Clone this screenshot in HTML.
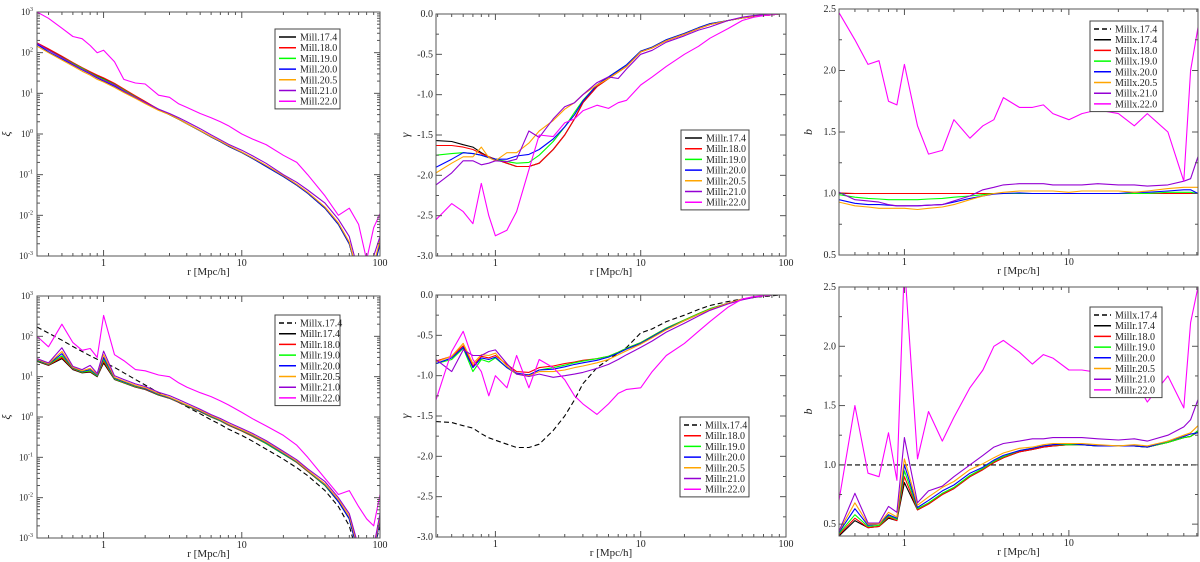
<!DOCTYPE html>
<html><head><meta charset="utf-8">
<style>
body{margin:0;background:#fff;}
svg{display:block;font-family:"Liberation Serif",serif;}
</style></head>
<body>
<svg id="fig" width="1200" height="562" viewBox="0 0 1200 562" xmlns="http://www.w3.org/2000/svg"></svg>
<script>
const G1=[0.33,0.4,0.5,0.6,0.7,0.8,0.9,1,1.2,1.4,1.7,2,2.5,3,3.5,4,5,6,7,8,10,12,15,20,25,30,40,50,60,70,80,90,100];
const G2=[0.39,0.5,0.6,0.7,0.8,0.9,1,1.2,1.4,1.7,2,2.5,3,3.5,4,5,6,7,8,10,12,15,20,25,30,40,50,60,70,80,90,100];
const G3=[0.4,0.5,0.6,0.7,0.8,0.9,1,1.2,1.4,1.7,2,2.5,3,3.5,4,5,6,7,8,10,12,15,20,25,30,40,50,55,61];

// Panel 1: xi (top-left)
const p1_174=[170,120,80,56,42,33,27,23,17,12.5,8.5,6.2,4,3,2.3,1.8,1.2,0.85,0.65,0.5,0.35,0.25,0.16,0.09,0.055,0.035,0.015,0.006,0.002,0.0003,0.0001,0.0005,0.002];
const p1_180=[175,124,82,57,43,34,28,24,17.5,12.8,8.7,6.3,4,3,2.3,1.8,1.2,0.85,0.65,0.5,0.35,0.25,0.16,0.09,0.055,0.035,0.015,0.006,0.002,0.0003,0.0001,0.0005,0.002];
const p1_190=[165,115,76,54,41,32,26,22,16.5,12,8.2,6,3.9,3,2.3,1.8,1.2,0.85,0.65,0.5,0.35,0.25,0.16,0.09,0.055,0.035,0.015,0.006,0.002,0.0003,0.0001,0.0005,0.002];
const p1_200=[160,105,70,50,38,30,24,20,15,11,7.8,5.8,3.9,3,2.3,1.8,1.2,0.85,0.65,0.5,0.35,0.25,0.16,0.09,0.055,0.035,0.015,0.006,0.002,0.0003,0.0001,0.0005,0.002];
const p1_205=[145,100,66,47,35,28,22,19,14,10.5,7.5,5.6,3.8,3,2.3,1.8,1.22,0.87,0.67,0.52,0.36,0.26,0.17,0.095,0.058,0.037,0.016,0.0065,0.0022,0.0003,0.0001,0.0006,0.0025];
const p1_210=[170,115,75,52,39,31,25,21,16,11.5,8,6,4.1,3.2,2.5,2,1.35,0.95,0.72,0.56,0.4,0.29,0.19,0.1,0.065,0.042,0.02,0.008,0.003,0.0004,0.0001,0.001,0.003];
const p1_220=[1000,700,400,250,220,150,100,115,60,22,18,17,9,8,5.5,4.5,3.2,2.5,2,1.6,1.0,0.75,0.55,0.3,0.2,0.1,0.03,0.01,0.015,0.006,0.0008,0.005,0.011];

// Panel 2: gamma (top-middle)
const p2_174=[-1.57,-1.58,-1.62,-1.65,-1.72,-1.77,-1.8,-1.85,-1.89,-1.89,-1.85,-1.68,-1.5,-1.3,-1.1,-0.9,-0.8,-0.72,-0.65,-0.47,-0.42,-0.33,-0.25,-0.18,-0.13,-0.08,-0.05,-0.03,-0.02,-0.01,0,0];
const p2_180=[-1.63,-1.63,-1.65,-1.68,-1.73,-1.77,-1.8,-1.85,-1.89,-1.89,-1.85,-1.68,-1.5,-1.3,-1.1,-0.9,-0.8,-0.72,-0.65,-0.47,-0.42,-0.33,-0.25,-0.18,-0.13,-0.08,-0.05,-0.03,-0.02,-0.01,0,0];
const p2_190=[-1.75,-1.73,-1.72,-1.73,-1.75,-1.78,-1.8,-1.83,-1.85,-1.84,-1.75,-1.58,-1.4,-1.22,-1.07,-0.88,-0.78,-0.7,-0.63,-0.46,-0.41,-0.32,-0.24,-0.17,-0.12,-0.08,-0.05,-0.03,-0.02,-0.01,0,0];
const p2_200=[-1.9,-1.8,-1.72,-1.73,-1.75,-1.78,-1.8,-1.8,-1.76,-1.74,-1.68,-1.55,-1.4,-1.25,-1.08,-0.88,-0.78,-0.7,-0.63,-0.46,-0.41,-0.32,-0.24,-0.17,-0.12,-0.08,-0.05,-0.03,-0.02,-0.01,0,0];
const p2_205=[-1.97,-1.85,-1.77,-1.77,-1.65,-1.78,-1.82,-1.72,-1.72,-1.6,-1.45,-1.32,-1.18,-1.1,-1.0,-0.88,-0.8,-0.72,-0.65,-0.47,-0.42,-0.33,-0.25,-0.18,-0.13,-0.08,-0.05,-0.03,-0.02,-0.01,0,0];
const p2_210=[-2.12,-1.97,-1.82,-1.82,-1.87,-1.85,-1.82,-1.83,-1.8,-1.45,-1.53,-1.3,-1.15,-1.1,-1.0,-0.85,-0.78,-0.8,-0.68,-0.5,-0.45,-0.35,-0.27,-0.2,-0.16,-0.08,-0.04,-0.02,-0.01,0,0,0.02];
const p2_220=[-2.55,-2.35,-2.45,-2.6,-2.1,-2.5,-2.75,-2.68,-2.45,-1.93,-1.5,-1.52,-1.35,-1.3,-1.2,-1.13,-1.17,-1.1,-1.07,-0.88,-0.78,-0.65,-0.5,-0.4,-0.3,-0.18,-0.08,-0.04,-0.02,-0.01,0,0];

// Panel 3: bias (top-right)
const p3_x174=[1,1,1,1,1,1,1,1,1,1,1,1,1,1,1,1,1,1,1,1,1,1,1,1,1,1,1,1,1];
const p3_180=[1.005,1.0,1.0,1.0,1.0,1.0,1.0,1.0,1.0,1.0,1.0,1.0,1.0,1.0,1.0,1.0,1.0,1.0,1.0,1.0,1.0,1.0,1.0,1.0,1.0,1.0,1.0,1.0,1.0];
const p3_190=[0.99,0.97,0.96,0.955,0.95,0.95,0.95,0.95,0.955,0.96,0.97,0.98,0.99,1,1,1,1,1,1,1,1,1,1,1,1,1.01,1.01,1.01,1.0];
const p3_200=[0.95,0.92,0.91,0.91,0.905,0.9,0.9,0.9,0.905,0.91,0.93,0.96,0.98,0.995,1,1.005,1,1,1,1,1,1,1,1.01,1.01,1.02,1.03,1.03,1.0];
const p3_205=[0.93,0.9,0.89,0.88,0.88,0.88,0.88,0.87,0.88,0.89,0.91,0.95,0.98,1.0,1.01,1.02,1.02,1.02,1.02,1.01,1.02,1.02,1.02,1.01,1.02,1.04,1.05,1.05,1.05];
const p3_210=[1.01,0.95,0.94,0.93,0.91,0.9,0.9,0.9,0.905,0.91,0.94,0.98,1.03,1.05,1.07,1.08,1.08,1.08,1.07,1.07,1.07,1.08,1.07,1.07,1.06,1.07,1.1,1.12,1.3];
const p3_220=[2.47,2.25,2.05,2.08,1.75,1.72,2.05,1.55,1.32,1.35,1.6,1.45,1.55,1.6,1.78,1.7,1.7,1.72,1.65,1.6,1.65,1.68,1.65,1.55,1.65,1.5,1.1,2.0,2.35];

// Panel 4: xi (bottom-left)
const p4_174=[24,19,28,15,12.5,13,10,22,8.5,7,5.5,4.8,3.5,2.9,2.3,1.9,1.35,1.0,0.8,0.63,0.45,0.33,0.22,0.12,0.075,0.045,0.02,0.008,0.003,0.0004,0.0001,0.0004,0.003];
const p4_180=[25,19.5,30,15.5,12.8,13.5,10.3,24,8.7,7.1,5.6,4.9,3.55,2.9,2.3,1.9,1.35,1.0,0.8,0.63,0.45,0.33,0.22,0.12,0.075,0.045,0.02,0.008,0.003,0.0004,0.0001,0.0004,0.003];
const p4_190=[25,20,33,16,13,14,10.5,27,8.8,7.2,5.7,5.0,3.6,2.95,2.35,1.92,1.37,1.02,0.81,0.64,0.46,0.34,0.22,0.12,0.076,0.046,0.02,0.008,0.003,0.0004,0.0001,0.0004,0.003];
const p4_200=[26,20.5,37,16.5,13.5,15,11,30,9.2,7.5,5.9,5.1,3.7,3.0,2.4,1.95,1.4,1.04,0.83,0.65,0.47,0.35,0.23,0.125,0.078,0.047,0.021,0.008,0.003,0.0004,0.0001,0.0004,0.003];
const p4_205=[27,21,42,17,14,16,11.5,35,9.6,7.8,6.1,5.3,3.8,3.1,2.45,2.0,1.45,1.07,0.85,0.67,0.48,0.36,0.24,0.13,0.08,0.048,0.022,0.009,0.0035,0.0005,0.0001,0.0005,0.0035];
const p4_210=[28,22,52,18,15,19,12,43,10.5,8.5,6.6,5.7,4.1,3.4,2.7,2.2,1.55,1.15,0.92,0.73,0.52,0.39,0.26,0.14,0.087,0.052,0.025,0.01,0.004,0.0006,0.0001,0.0006,0.004];
const p4_220=[100,55,200,70,45,50,30,330,35,25,15,14,11,10,7,5.5,4,3.2,2.5,2,1.3,0.9,0.6,0.35,0.2,0.1,0.03,0.012,0.015,0.006,0.003,0.002,0.012];
const p4_x174=[170,120,80,56,42,33,27,23,17,12.5,8.5,6.2,4,3,2.3,1.8,1.2,0.85,0.65,0.5,0.35,0.25,0.16,0.09,0.055,0.035,0.015,0.006,0.002,0.0003,0.0001,0.0005,0.002];

// Panel 5: gamma (bottom-middle)
const p5_x174=[-1.57,-1.58,-1.62,-1.65,-1.72,-1.77,-1.8,-1.85,-1.89,-1.89,-1.85,-1.68,-1.5,-1.3,-1.1,-0.9,-0.8,-0.72,-0.65,-0.47,-0.42,-0.33,-0.25,-0.18,-0.13,-0.08,-0.05,-0.03,-0.02,-0.01,0,0];
const p5_180=[-0.82,-0.76,-0.63,-0.88,-0.76,-0.78,-0.75,-0.86,-0.95,-0.96,-0.9,-0.88,-0.85,-0.83,-0.81,-0.79,-0.76,-0.71,-0.66,-0.59,-0.51,-0.41,-0.31,-0.23,-0.17,-0.1,-0.05,-0.03,-0.01,0,0,0];
const p5_190=[-0.85,-0.8,-0.66,-0.95,-0.8,-0.83,-0.78,-0.9,-0.98,-0.99,-0.93,-0.9,-0.87,-0.84,-0.82,-0.79,-0.76,-0.71,-0.66,-0.59,-0.51,-0.41,-0.31,-0.23,-0.17,-0.1,-0.05,-0.03,-0.01,0,0,0];
const p5_200=[-0.85,-0.78,-0.65,-0.9,-0.78,-0.8,-0.77,-0.9,-0.97,-0.99,-0.93,-0.92,-0.89,-0.86,-0.84,-0.81,-0.77,-0.72,-0.67,-0.6,-0.52,-0.42,-0.32,-0.24,-0.18,-0.1,-0.05,-0.03,-0.01,0,0,0];
const p5_205=[-0.83,-0.76,-0.6,-0.85,-0.74,-0.75,-0.72,-0.88,-0.98,-1.0,-0.95,-0.95,-0.93,-0.9,-0.88,-0.84,-0.8,-0.74,-0.69,-0.61,-0.53,-0.43,-0.32,-0.24,-0.18,-0.1,-0.05,-0.03,-0.01,0,0,0];
const p5_210=[-0.8,-0.95,-0.68,-0.75,-0.75,-0.7,-0.68,-0.85,-0.98,-1.01,-0.98,-1.02,-1.0,-0.98,-0.96,-0.91,-0.86,-0.8,-0.74,-0.65,-0.57,-0.46,-0.35,-0.26,-0.19,-0.11,-0.06,-0.03,-0.01,0,0,0];
const p5_220=[-1.3,-0.7,-0.45,-0.8,-0.95,-1.25,-1.0,-1.15,-0.75,-1.15,-0.8,-0.9,-1.05,-1.25,-1.35,-1.48,-1.35,-1.22,-1.17,-1.15,-0.95,-0.75,-0.6,-0.45,-0.33,-0.15,-0.05,-0.02,-0.01,0,0,0];

// Panel 6: bias (bottom-right)
const p6_x174=[1,1,1,1,1,1,1,1,1,1,1,1,1,1,1,1,1,1,1,1,1,1,1,1,1,1,1,1,1];
const p6_174=[0.4,0.53,0.47,0.48,0.55,0.53,0.85,0.62,0.67,0.75,0.8,0.9,0.96,1.02,1.06,1.11,1.13,1.15,1.16,1.17,1.17,1.16,1.16,1.16,1.15,1.19,1.23,1.24,1.28];
const p6_180=[0.41,0.55,0.47,0.48,0.56,0.53,0.9,0.62,0.67,0.75,0.8,0.9,0.96,1.02,1.06,1.11,1.13,1.15,1.16,1.17,1.17,1.16,1.16,1.16,1.15,1.19,1.23,1.24,1.29];
const p6_190=[0.42,0.58,0.48,0.49,0.57,0.54,0.95,0.63,0.68,0.76,0.81,0.91,0.97,1.03,1.07,1.12,1.14,1.16,1.17,1.17,1.17,1.16,1.16,1.16,1.15,1.19,1.23,1.24,1.29];
const p6_200=[0.43,0.63,0.49,0.5,0.58,0.55,1.0,0.64,0.7,0.78,0.83,0.93,0.98,1.04,1.08,1.12,1.14,1.16,1.17,1.18,1.17,1.16,1.16,1.16,1.15,1.2,1.24,1.26,1.27];
const p6_205=[0.44,0.68,0.5,0.5,0.6,0.56,1.05,0.66,0.73,0.81,0.86,0.96,1.01,1.06,1.1,1.14,1.15,1.17,1.18,1.18,1.18,1.17,1.16,1.17,1.16,1.2,1.25,1.27,1.33];
const p6_210=[0.44,0.76,0.51,0.51,0.65,0.6,1.23,0.68,0.78,0.82,0.9,1.0,1.08,1.15,1.18,1.2,1.22,1.22,1.23,1.23,1.23,1.22,1.21,1.22,1.2,1.25,1.32,1.38,1.55];
const p6_220=[0.7,1.5,0.93,0.9,1.27,0.87,2.7,1.05,1.45,1.2,1.4,1.65,1.8,2.0,2.05,1.95,1.85,1.93,1.9,1.8,1.8,1.78,1.6,1.72,1.53,1.75,1.48,2.2,2.5];

const C={blk:'#000',red:'#ff0000',grn:'#00ff00',blu:'#0000ff',org:'#ffa500',pur:'#9400d3',mag:'#ff00ff'};
const NS='http://www.w3.org/2000/svg';
const svg=document.getElementById('fig');
function mk(tag,attrs,parent){const e=document.createElementNS(NS,tag);for(const k in attrs)e.setAttribute(k,attrs[k]);(parent||svg).appendChild(e);return e;}

function panel(cfg){
  const g=mk('g',{});
  
  
  const {L,R,T,B,xmin,xmax}=cfg;
  const lx0=Math.log10(xmin),lx1=Math.log10(xmax);
  const sx=v=>L+(Math.log10(v)-lx0)/(lx1-lx0)*(R-L);
  let sy;
  if(cfg.ylog){const a=Math.log10(cfg.ymin),b=Math.log10(cfg.ymax);sy=v=>B-(Math.log10(Math.max(v,1e-9))-a)/(b-a)*(B-T);}
  else sy=v=>B-(v-cfg.ymin)/(cfg.ymax-cfg.ymin)*(B-T);
  const cid='clip-'+cfg.name;
  const cp=mk('clipPath',{id:cid},g);mk('rect',{x:L,y:T,width:R-L,height:B-T},cp);
  const dg=mk('g',{'clip-path':'url(#'+cid+')'},g);
  cfg.series.forEach(s=>{
    const d=s.v.map((v,i)=>(i?'L':'M')+sx(s.x[i]).toFixed(1)+' '+sy(v).toFixed(1)).join(' ');
    const p=mk('path',{d:d,fill:'none',stroke:s.c,'stroke-width':s.w||1.1,'stroke-dasharray':s.dash?'5 3':'none','stroke-linejoin':'round'},dg);
    
    
  });
  const fr=mk('rect',{x:L,y:T,width:R-L,height:B-T,fill:'none',stroke:'#555','stroke-width':1},g);
  
  
  const ax=mk('g',{stroke:'#555','stroke-width':1},g);
  for(let dec=-1;dec<=2;dec++){for(let m=1;m<10;m++){const v=m*Math.pow(10,dec);if(v<xmin||v>xmax)continue;const x=sx(v);const len=m==1?6:3;
    mk('line',{x1:x,y1:B,x2:x,y2:B-len},ax);mk('line',{x1:x,y1:T,x2:x,y2:T+len},ax);}}
  cfg.xlabels.forEach(v=>{const t=mk('text',{x:sx(v),y:B+10,'font-size':10,'text-anchor':'middle',fill:'#222'},g);t.textContent=v;
    });
  if(cfg.ylog){
    for(let e=-3;e<=3;e++){const y=sy(Math.pow(10,e));mk('line',{x1:L,y1:y,x2:L+6,y2:y},ax);mk('line',{x1:R,y1:y,x2:R-6,y2:y},ax);
      if(e<3)for(let m=2;m<10;m++){const yy=sy(m*Math.pow(10,e));mk('line',{x1:L,y1:yy,x2:L+3,y2:yy},ax);mk('line',{x1:R,y1:yy,x2:R-3,y2:yy},ax);}
      const t=mk('text',{x:L-4,y:y+3,'font-size':9,'text-anchor':'end',fill:'#222'},g);
      
      const b=mk('tspan',{},t);b.textContent='10';const s=mk('tspan',{dy:-4,'font-size':6},t);s.textContent=e;}
  } else {
    const st=cfg.ystep;
    for(let v=cfg.ytick0;v<=cfg.ymax+1e-9;v+=st/2){const y=sy(v);const maj=Math.abs(Math.round(v/st)*st-v)<1e-6;const len=maj?6:3;
      mk('line',{x1:L,y1:y,x2:L+len,y2:y},ax);mk('line',{x1:R,y1:y,x2:R-len,y2:y},ax);
      if(maj){const t=mk('text',{x:L-3,y:y+3,'font-size':10,'text-anchor':'end',fill:'#222'},g);t.textContent=v.toFixed(1);
        }}
  }
  const xt=mk('text',{x:(L+R)/2,y:B+19,'font-size':11,'text-anchor':'middle',fill:'#222'},g);xt.textContent='r [Mpc/h]';
  
  const yt=mk('text',{x:L-27,y:(T+B)/2,'font-size':12,'font-style':'italic','text-anchor':'middle',fill:'#222',transform:`rotate(-90 ${L-27} ${(T+B)/2})`},g);yt.textContent=cfg.ytitle;
  
  const lg=mk('g',{},g);
  
  const [lx,ly,lw]=cfg.leg;const n=cfg.series.length;const h=n*10.7+5;
  mk('rect',{x:lx,y:ly,width:lw,height:h,fill:'#fff',stroke:'#444','stroke-width':1},lg);
  cfg.series.forEach((s,i)=>{const yy=ly+8+i*10.7;
    mk('line',{x1:lx+4,y1:yy,x2:lx+21,y2:yy,stroke:s.c,'stroke-width':1.5,'stroke-dasharray':s.dash?'5 3':'none'},lg);
    const t=mk('text',{x:lx+25,y:yy+3.5,'font-size':10,fill:'#222'},lg);t.textContent=s.label;
    });
}

panel({name:'xi-panel-top',L:37,R:380,T:12,B:256,xmin:0.33,xmax:100,ylog:true,ymin:0.001,ymax:1000,ytitle:'ξ',xlabels:[1,10,100],leg:[275,29,65],
 series:[{x:G1,v:p1_174,c:C.blk,label:'Mill.17.4'},{x:G1,v:p1_180,c:C.red,label:'Mill.18.0'},{x:G1,v:p1_190,c:C.grn,label:'Mill.19.0'},{x:G1,v:p1_200,c:C.blu,label:'Mill.20.0'},{x:G1,v:p1_205,c:C.org,label:'Mill.20.5'},{x:G1,v:p1_210,c:C.pur,label:'Mill.21.0'},{x:G1,v:p1_220,c:C.mag,label:'Mill.22.0'}]});
panel({name:'gamma-panel-top',L:436,R:786,T:14,B:256,xmin:0.39,xmax:100,ylog:false,ymin:-3,ymax:0,ytick0:-3,ystep:0.5,ytitle:'γ',xlabels:[1,10,100],leg:[681,130,68],
 series:[{x:G2,v:p2_174,c:C.blk,label:'Millr.17.4'},{x:G2,v:p2_180,c:C.red,label:'Millr.18.0'},{x:G2,v:p2_190,c:C.grn,label:'Millr.19.0'},{x:G2,v:p2_200,c:C.blu,label:'Millr.20.0'},{x:G2,v:p2_205,c:C.org,label:'Millr.20.5'},{x:G2,v:p2_210,c:C.pur,label:'Millr.21.0'},{x:G2,v:p2_220,c:C.mag,label:'Millr.22.0'}]});
panel({name:'bias-panel-top',L:839,R:1198,T:9,B:255,xmin:0.4,xmax:61,ylog:false,ymin:0.5,ymax:2.5,ytick0:0.5,ystep:0.5,ytitle:'b',xlabels:[1,10],leg:[1090,21,73],
 series:[{x:G3,v:p3_x174,c:C.blk,dash:true,label:'Millx.17.4'},{x:G3,v:p3_x174,c:C.blk,label:'Millx.17.4'},{x:G3,v:p3_180,c:C.red,label:'Millx.18.0'},{x:G3,v:p3_190,c:C.grn,label:'Millx.19.0'},{x:G3,v:p3_200,c:C.blu,label:'Millx.20.0'},{x:G3,v:p3_205,c:C.org,label:'Millx.20.5'},{x:G3,v:p3_210,c:C.pur,label:'Millx.21.0'},{x:G3,v:p3_220,c:C.mag,label:'Millx.22.0'}]});
panel({name:'xi-panel-bottom',L:37,R:380,T:296,B:538,xmin:0.33,xmax:100,ylog:true,ymin:0.001,ymax:1000,ytitle:'ξ',xlabels:[1,10,100],leg:[275,315,65],
 series:[{x:G1,v:p4_x174,c:C.blk,dash:true,label:'Millx.17.4'},{x:G1,v:p4_174,c:C.blk,label:'Millr.17.4'},{x:G1,v:p4_180,c:C.red,label:'Millr.18.0'},{x:G1,v:p4_190,c:C.grn,label:'Millr.19.0'},{x:G1,v:p4_200,c:C.blu,label:'Millr.20.0'},{x:G1,v:p4_205,c:C.org,label:'Millr.20.5'},{x:G1,v:p4_210,c:C.pur,label:'Millr.21.0'},{x:G1,v:p4_220,c:C.mag,label:'Millr.22.0'}]});
panel({name:'gamma-panel-bottom',L:436,R:786,T:295,B:537,xmin:0.39,xmax:100,ylog:false,ymin:-3,ymax:0,ytick0:-3,ystep:0.5,ytitle:'γ',xlabels:[1,10,100],leg:[680,417,69],
 series:[{x:G2,v:p5_x174,c:C.blk,dash:true,label:'Millx.17.4'},{x:G2,v:p5_180,c:C.red,label:'Millr.18.0'},{x:G2,v:p5_190,c:C.grn,label:'Millr.19.0'},{x:G2,v:p5_200,c:C.blu,label:'Millr.20.0'},{x:G2,v:p5_205,c:C.org,label:'Millr.20.5'},{x:G2,v:p5_210,c:C.pur,label:'Millr.21.0'},{x:G2,v:p5_220,c:C.mag,label:'Millr.22.0'}]});
panel({name:'bias-panel-bottom',L:839,R:1198,T:287,B:536,xmin:0.4,xmax:61,ylog:false,ymin:0.4,ymax:2.5,ytick0:0.5,ystep:0.5,ytitle:'b',xlabels:[1,10],leg:[1090,307,72],
 series:[{x:G3,v:p6_x174,c:C.blk,dash:true,label:'Millx.17.4'},{x:G3,v:p6_174,c:C.blk,label:'Millr.17.4'},{x:G3,v:p6_180,c:C.red,label:'Millr.18.0'},{x:G3,v:p6_190,c:C.grn,label:'Millr.19.0'},{x:G3,v:p6_200,c:C.blu,label:'Millr.20.0'},{x:G3,v:p6_205,c:C.org,label:'Millr.20.5'},{x:G3,v:p6_210,c:C.pur,label:'Millr.21.0'},{x:G3,v:p6_220,c:C.mag,label:'Millr.22.0'}]});
</script>
</body></html>
